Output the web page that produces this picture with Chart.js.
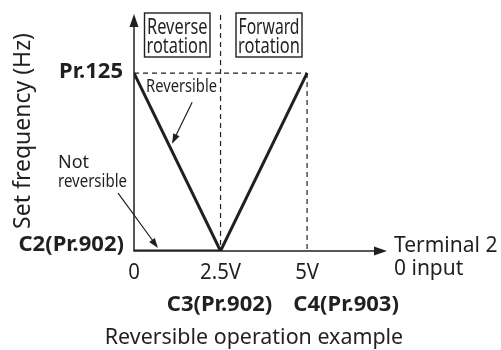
<!DOCTYPE html>
<html>
<head>
<meta charset="utf-8">
<script src="https://cdn.jsdelivr.net/npm/chart.js@4"></script>
<style>
  html, body { margin: 0; padding: 0; background: #ffffff; }
  canvas { display: block; }
</style>
</head>
<body>
<canvas id="c" width="501" height="350"></canvas>
<script>
// Terminal 2 input (V) against set frequency (Hz)
const inputVolts = [0, 2.5, 5];
const tickLabels = ['0', '2.5V', '5V'];
const calibLabels = ['', 'C3(Pr.902)', 'C4(Pr.903)'];
const reversibleHz = [60, 0, 60];      // Pr.125 -> C2 at 2.5V -> Pr.125
const notReversibleHz = [0, 0];        // held at C2 from 0 to 2.5V
const maxHz = 60;                      // Pr.125 level
const xMax = 7.28;
const yMax = 79.6;

const INK = '#231f20';
const FONT = '"Noto Sans", "Open Sans", sans-serif';

function pts(xs, ys) { return xs.map((x, i) => ({ x: x, y: ys[i] })); }

function arrowHead(ctx, x1, y1, x2, y2, len, wid) {
  const a = Math.atan2(y2 - y1, x2 - x1);
  ctx.beginPath();
  ctx.moveTo(x2, y2);
  ctx.lineTo(x2 - len * Math.cos(a) + wid * Math.sin(a), y2 - len * Math.sin(a) - wid * Math.cos(a));
  ctx.lineTo(x2 - len * Math.cos(a) - wid * Math.sin(a), y2 - len * Math.sin(a) + wid * Math.cos(a));
  ctx.closePath();
  ctx.fill();
}

// text squeezed or stretched horizontally
function scaledText(ctx, text, x, y, scale) {
  ctx.save();
  ctx.translate(x, y);
  ctx.scale(scale, 1);
  ctx.fillText(text, 0, 0);
  ctx.restore();
}

const diagram = {
  id: 'diagram',
  afterDatasetsDraw(chart) {
    const ctx = chart.ctx;
    const xs = chart.scales.x, ys = chart.scales.y;
    const X = v => xs.getPixelForValue(v);
    const Y = v => ys.getPixelForValue(v);
    const x0 = X(0), y0 = Y(0), xEnd = X(xMax), yTop = Y(yMax);
    ctx.save();
    ctx.strokeStyle = INK;
    ctx.fillStyle = INK;

    // axes with arrows
    ctx.lineWidth = 1.5;
    ctx.setLineDash([]);
    ctx.beginPath();
    ctx.moveTo(x0, y0 + 0.5);
    ctx.lineTo(x0, yTop + 6);
    ctx.moveTo(x0 - 0.75, y0);
    ctx.lineTo(xEnd - 6, y0);
    ctx.stroke();
    arrowHead(ctx, x0, y0, x0, yTop - 1, 13, 4.5);
    arrowHead(ctx, x0, y0, xEnd + 1, y0, 13, 4.5);

    // rotation boxes
    ctx.lineWidth = 1.4;
    ctx.font = '21px ' + FONT;
    ctx.textAlign = 'center';
    ctx.textBaseline = 'alphabetic';
    const boxes = [
      { l: 144.5, r: 210, t1: 'Reverse', t2: 'rotation' },
      { l: 236, r: 302, t1: 'Forward', t2: 'rotation' }
    ];
    boxes.forEach(b => {
      ctx.strokeRect(b.l, 13, b.r - b.l, 44);
      const cx = (b.l + b.r) / 2;
      ctx.fillText(b.t1, cx, 34, b.r - b.l - 5);
      ctx.fillText(b.t2, cx, 53, b.r - b.l - 4);
    });

    // y axis title
    ctx.save();
    ctx.translate(30, 131);
    ctx.rotate(-Math.PI / 2);
    ctx.font = '23px ' + FONT;
    ctx.textAlign = 'center';
    ctx.textBaseline = 'alphabetic';
    ctx.fillText('Set frequency (Hz)', 0, 0);
    ctx.restore();

    // level labels
    ctx.font = 'bold 22px ' + FONT;
    ctx.textAlign = 'right';
    ctx.textBaseline = 'middle';
    ctx.fillText('Pr.125', x0 - 11, Y(maxHz) - 1);
    ctx.fillText('C2(Pr.902)', x0 - 10, y0 - 6);

    // x tick labels
    ctx.font = '21px ' + FONT;
    ctx.textAlign = 'center';
    inputVolts.forEach((v, i) => scaledText(ctx, tickLabels[i], X(v), y0 + 22, 0.97));
    ctx.font = 'bold 22px ' + FONT;
    ctx.fillText(calibLabels[1], X(inputVolts[1]) - 1, y0 + 54);
    ctx.fillText(calibLabels[2], X(inputVolts[2]) + 39, y0 + 54);

    // x axis title
    ctx.font = '21px ' + FONT;
    ctx.textAlign = 'left';
    ctx.textBaseline = 'alphabetic';
    ctx.fillText('Terminal 2', xEnd + 8, y0 + 1);
    ctx.fillText('0 input', xEnd + 8, y0 + 24);

    // curve callouts
    ctx.font = '18px ' + FONT;
    ctx.textBaseline = 'middle';
    ctx.fillText('Reversible', 146, 87, 71);
    ctx.fillText('Not', 58, 163, 40);
    ctx.fillText('reversible', 58, 182, 69);

    ctx.lineWidth = 1.2;
    ctx.beginPath();
    ctx.moveTo(X(1.68), Y(50.2));
    ctx.lineTo(X(1.12), Y(36.8));
    ctx.moveTo(X(-0.46), Y(19.5));
    ctx.lineTo(X(0.66), Y(1.6));
    ctx.stroke();
    arrowHead(ctx, X(1.68), Y(50.2), X(1.1), Y(36.2), 10, 3.5);
    arrowHead(ctx, X(-0.46), Y(19.5), X(0.69), Y(1.0), 10, 3.5);

    // caption
    ctx.font = '21px ' + FONT;
    ctx.textAlign = 'center';
    scaledText(ctx, 'Reversible operation example', 254, 338, 1.02);

    ctx.restore();
  }
};

const dashed = { borderColor: INK, borderWidth: 1.2, borderDash: [5, 4], pointRadius: 0, fill: false, tension: 0 };

new Chart(document.getElementById('c'), {
  type: 'line',
  data: {
    datasets: [
      Object.assign({ label: 'Pr.125 level', data: pts([0, inputVolts[2]], [maxHz, maxHz]) }, dashed),
      Object.assign({ label: '5V', data: pts([inputVolts[2], inputVolts[2]], [maxHz, 0]) }, dashed),
      Object.assign({ label: '2.5V', data: pts([inputVolts[1], inputVolts[1]], [yMax, 0]) }, dashed),
      { label: 'Not reversible', data: pts([inputVolts[0], inputVolts[1]], notReversibleHz),
        borderColor: INK, borderWidth: 3, pointRadius: 0, tension: 0 },
      { label: 'Reversible', data: pts(inputVolts, reversibleHz),
        borderColor: INK, borderWidth: 3, pointRadius: 0, tension: 0, borderJoinStyle: 'miter' }
    ]
  },
  options: {
    responsive: false,
    animation: false,
    layout: { padding: { left: 134, right: 115, top: 15, bottom: 99 } },
    plugins: { legend: { display: false }, tooltip: { enabled: false } },
    scales: {
      x: { type: 'linear', min: 0, max: xMax, display: false },
      y: { type: 'linear', min: 0, max: yMax, display: false }
    }
  },
  plugins: [diagram]
});
</script>
</body>
</html>
